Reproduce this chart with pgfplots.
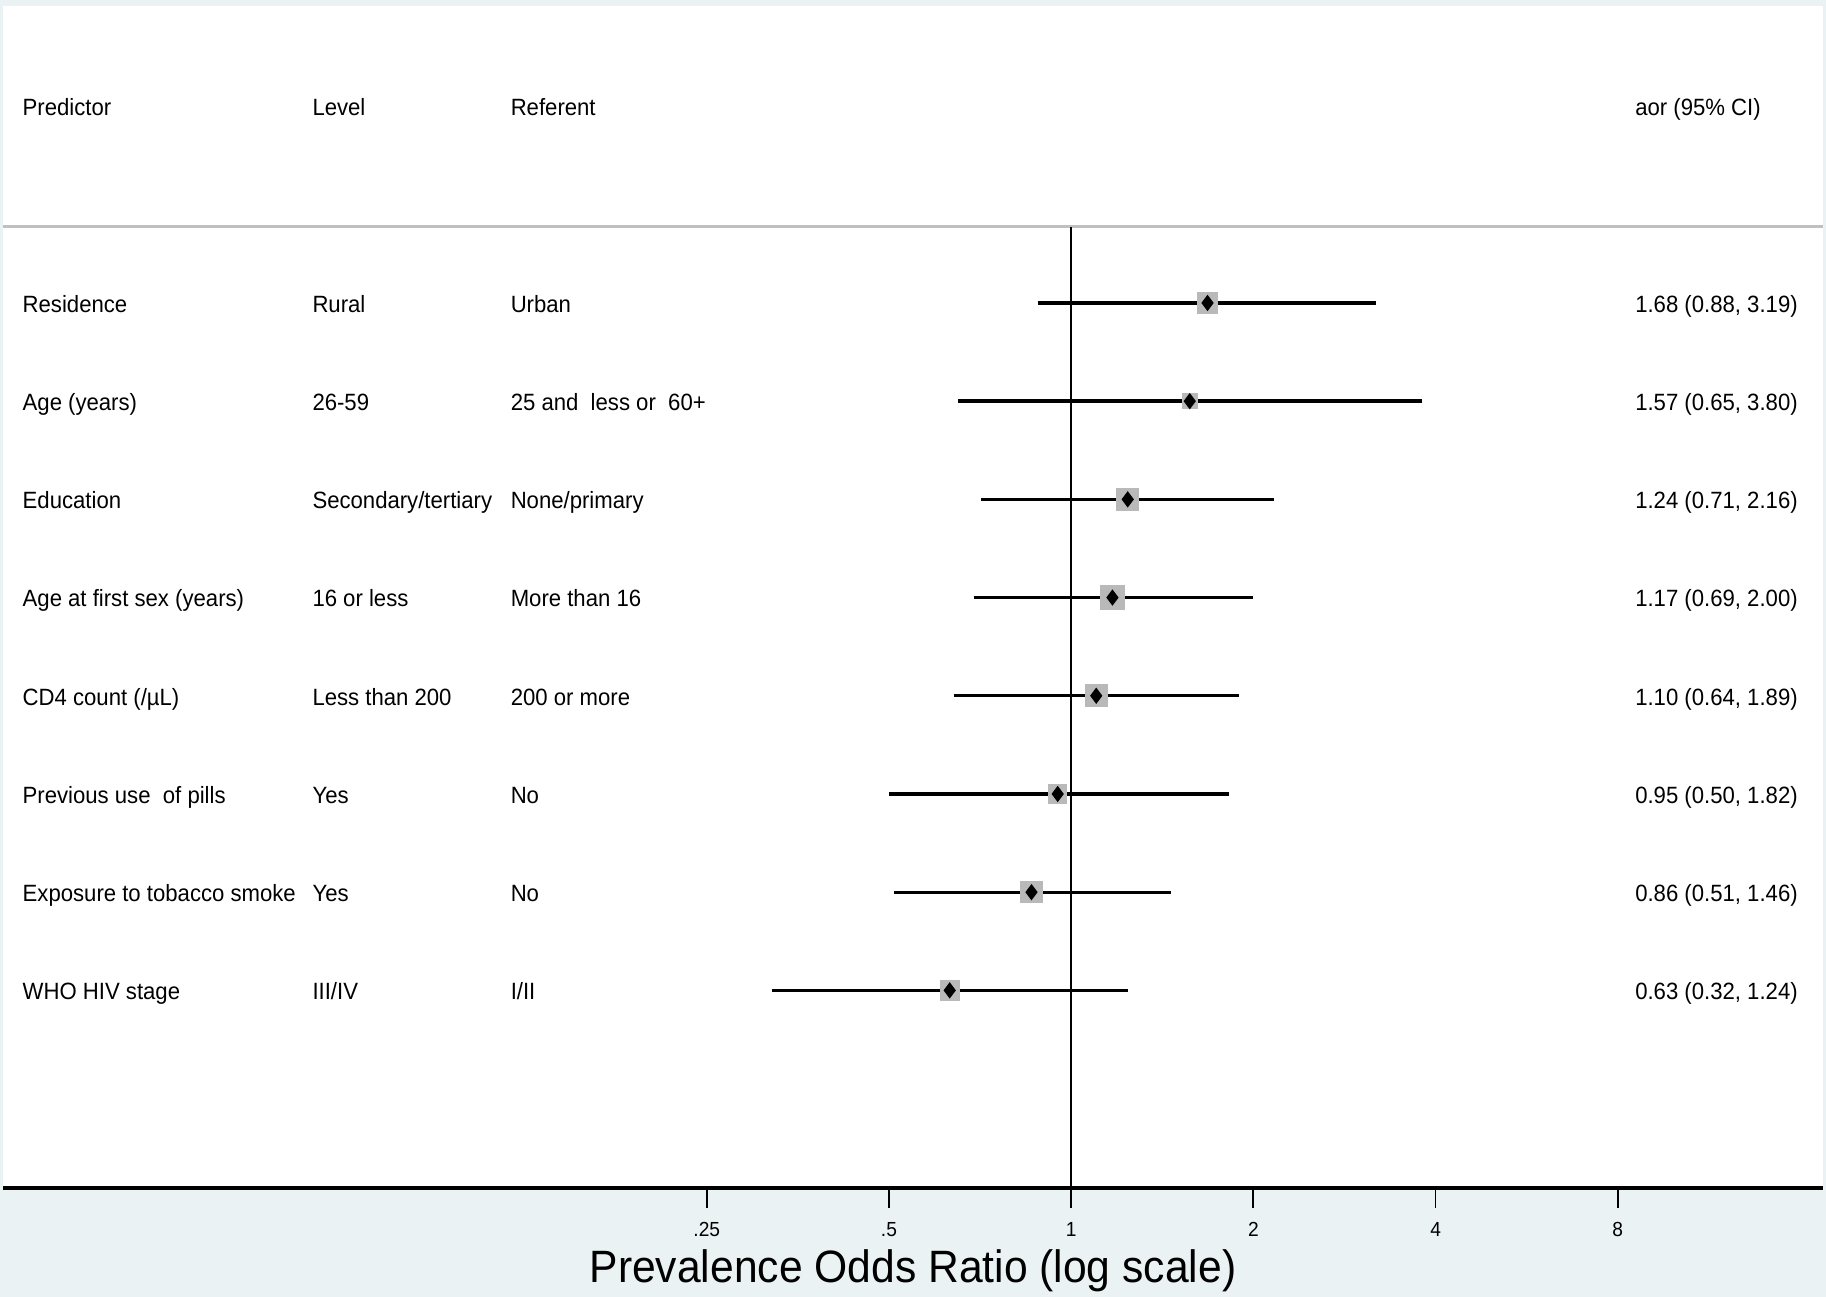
\documentclass[border=0pt]{standalone}
\usepackage{fontspec}
\setmainfont{Liberation Sans}[FakeStretch=0.94]
\usepackage{pgfplots}
\usepackage{pgfplotstable}
\pgfplotsset{compat=1.18}
\definecolor{stataBG}{RGB}{234,242,243}
\definecolor{sqgray}{RGB}{185,185,185}
\definecolor{hdrgray}{RGB}{192,192,192}

\pgfplotstableread{
row or lo hi ms
8 1.68 0.88 3.19 2.85
7 1.57 0.65 3.80 2.13
6 1.24 0.71 2.16 3.13
5 1.17 0.69 2.00 3.27
4 1.10 0.64 1.89 3.13
3 0.95 0.50 1.82 2.56
2 0.86 0.51 1.46 2.99
1 0.63 0.32 1.24 2.70
}\forestdata

\newcommand{\bodyfont}{\fontsize{6.7pt}{8pt}\selectfont}

\begin{document}
\begin{tikzpicture}
\fill[stataBG] (0,0) rectangle (18.26cm,12.97cm);
\begin{axis}[
  at={(0.03cm,12.91cm)}, anchor=north west,
  width=18.20cm, height=11.82cm, scale only axis,
  xmode=log, log basis x=2,
  xmin=0.01719, xmax=17.46,
  ymin=-1.012, ymax=11.024,
  axis background/.style={fill=white},
  axis x line*=bottom,
  axis y line=none,
  x axis line style={line width=0.9pt},
  xtick={0.25,0.5,1,2,4,8},
  xticklabels={.25,.5,1,2,4,8},
  minor xtick={},
  tick align=outside,
  major tick length=0.2cm,
  xtick style={line width=0.5pt, black},
  xticklabel style={font=\fontsize{5.8pt}{7pt}\selectfont, yshift=-0.02cm},
  xlabel={Prevalence Odds Ratio (log scale)},
  xlabel style={font=\fontsize{12.9pt}{15pt}\selectfont, yshift=0.11cm},
  clip=false,
]
% header separator
\draw[hdrgray, line width=0.85pt] (axis cs:0.01719,8.774) -- (axis cs:17.46,8.774);
% null line
\draw[black, line width=0.65pt] (axis cs:1,8.774) -- (axis cs:1,-1.012);

% weight squares
\addplot[scatter, only marks, mark=square*,
  scatter/use mapped color={draw=sqgray, fill=sqgray},
  mark options={rounded corners=0.4pt},
  visualization depends on={\thisrow{ms} \as \msize},
  scatter/@pre marker code/.append style={/tikz/mark size=\msize pt}]
  table[x=or, y=row] \forestdata;

% confidence intervals
\addplot[black, line width=0.95pt] coordinates {(0.88,8) (3.19,8)};
\addplot[black, line width=0.95pt] coordinates {(0.65,7) (3.80,7)};
\addplot[black, line width=0.95pt] coordinates {(0.71,6) (2.16,6)};
\addplot[black, line width=0.95pt] coordinates {(0.69,5) (2.00,5)};
\addplot[black, line width=0.95pt] coordinates {(0.64,4) (1.89,4)};
\addplot[black, line width=0.95pt] coordinates {(0.50,3) (1.82,3)};
\addplot[black, line width=0.95pt] coordinates {(0.51,2) (1.46,2)};
\addplot[black, line width=0.95pt] coordinates {(0.32,1) (1.24,1)};

% point estimates
\addplot[only marks, mark=diamond*, mark size=2pt, black] table[x=or, y=row] \forestdata;

% column text
\begin{scope}[every node/.style={anchor=mid west, inner sep=0pt, font=\bodyfont}]
\node at (axis cs:0.01848,10) {Predictor};
\node at (axis cs:0.05565,10) {Level};
\node at (axis cs:0.1183,10) {Referent};
\node at (axis cs:8.527,10) {aor (95\% CI)};

\node at (axis cs:0.01848,8) {Residence};
\node at (axis cs:0.05565,8) {Rural};
\node at (axis cs:0.1183,8) {Urban};
\node at (axis cs:8.527,8) {1.68 (0.88, 3.19)};

\node at (axis cs:0.01848,7) {Age (years)};
\node at (axis cs:0.05565,7) {26-59};
\node at (axis cs:0.1183,7) {25 and\ \ less or\ \ 60+};
\node at (axis cs:8.527,7) {1.57 (0.65, 3.80)};

\node at (axis cs:0.01848,6) {Education};
\node at (axis cs:0.05565,6) {Secondary/tertiary};
\node at (axis cs:0.1183,6) {None/primary};
\node at (axis cs:8.527,6) {1.24 (0.71, 2.16)};

\node at (axis cs:0.01848,5) {Age at first sex (years)};
\node at (axis cs:0.05565,5) {16 or less};
\node at (axis cs:0.1183,5) {More than 16};
\node at (axis cs:8.527,5) {1.17 (0.69, 2.00)};

\node at (axis cs:0.01848,4) {CD4 count (/µL)};
\node at (axis cs:0.05565,4) {Less than 200};
\node at (axis cs:0.1183,4) {200 or more};
\node at (axis cs:8.527,4) {1.10 (0.64, 1.89)};

\node at (axis cs:0.01848,3) {Previous use\ \ of pills};
\node at (axis cs:0.05565,3) {Yes};
\node at (axis cs:0.1183,3) {No};
\node at (axis cs:8.527,3) {0.95 (0.50, 1.82)};

\node at (axis cs:0.01848,2) {Exposure to tobacco smoke};
\node at (axis cs:0.05565,2) {Yes};
\node at (axis cs:0.1183,2) {No};
\node at (axis cs:8.527,2) {0.86 (0.51, 1.46)};

\node at (axis cs:0.01848,1) {WHO HIV stage};
\node at (axis cs:0.05565,1) {III/IV};
\node at (axis cs:0.1183,1) {I/II};
\node at (axis cs:8.527,1) {0.63 (0.32, 1.24)};
\end{scope}
\end{axis}
\pgfresetboundingbox
\path[use as bounding box] (0,0) rectangle (18.26cm,12.97cm);
\end{tikzpicture}
\end{document}
